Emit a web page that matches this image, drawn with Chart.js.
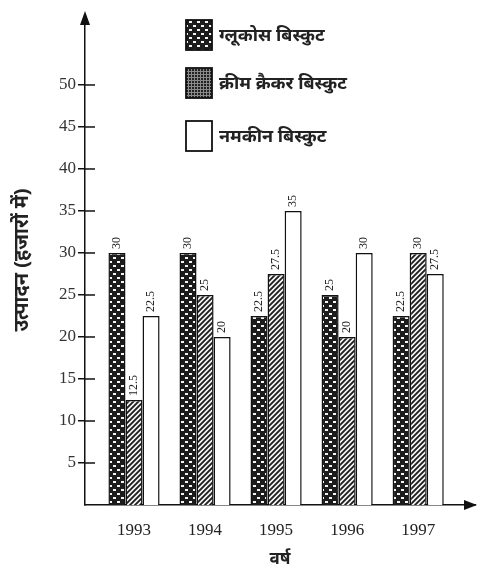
<!DOCTYPE html>
<html><head><meta charset="utf-8">
<script src="https://cdn.jsdelivr.net/npm/chart.js@4"></script>
<style>html,body{margin:0;padding:0;background:#fff}#wrap{width:479px;height:572px}</style>
</head><body><div id="wrap"><canvas id="c" width="479" height="572"></canvas></div>
<script>
const years = ['1993', '1994', '1995', '1996', '1997'];
const glucose = [30, 30, 22.5, 25, 22.5];
const creamCracker = [12.5, 25, 27.5, 20, 30];
const namkeen = [22.5, 20, 35, 30, 27.5];
const seriesNames = ['ग्लूकोस बिस्कुट', 'क्रीम क्रैकर बिस्कुट', 'नमकीन बिस्कुट'];
const yTicks = [5, 10, 15, 20, 25, 30, 35, 40, 45, 50];
const yTitle = 'उत्पादन (हजारों में)';
const xTitle = 'वर्ष';

const DEVA = "'Noto Sans', 'Noto Sans Devanagari', 'Lohit Devanagari', 'DejaVu Sans', sans-serif";
const SERIF = "'Liberation Serif', 'DejaVu Serif', serif";

function pattern(type) {
  const c = document.createElement('canvas');
  const g = c.getContext('2d');
  if (type === 'brick') {
    c.width = 8; c.height = 8;
    g.fillStyle = '#1c1c1c'; g.fillRect(0, 0, 8, 8);
    g.fillStyle = '#f4f4f4';
    g.fillRect(1, 1, 3, 2);
    g.fillRect(5, 5, 3, 2);
  } else if (type === 'hatch') {
    c.width = 5; c.height = 5;
    g.fillStyle = '#f4f4f4'; g.fillRect(0, 0, 5, 5);
    g.strokeStyle = '#1c1c1c'; g.lineWidth = 1.8;
    g.beginPath();
    g.moveTo(-1, 6); g.lineTo(6, -1);
    g.moveTo(-1, 1); g.lineTo(1, -1);
    g.moveTo(4, 6); g.lineTo(6, 4);
    g.stroke();
  } else if (type === 'dots') {
    c.width = 3; c.height = 3;
    g.fillStyle = '#8a8a8a'; g.fillRect(0, 0, 3, 3);
    g.fillStyle = '#222'; g.fillRect(0, 0, 2, 2);
  }
  return g.createPattern(c, 'repeat');
}

const fills = [pattern('brick'), pattern('hatch'), '#ffffff'];
const legendFills = [pattern('brick'), pattern('dots'), '#ffffff'];
const seriesData = [glucose, creamCracker, namkeen];

const datasets = seriesData.map((arr, k) => ({
  label: seriesNames[k],
  data: arr.map((v, i) => ({ x: i, y: v })),
  backgroundColor: fills[k],
  borderColor: '#111',
  borderWidth: 1.5,
  barPercentage: 1,
  categoryPercentage: 0.72
}));

const decor = {
  id: 'decor',
  afterDatasetsDraw(chart) {
    const ctx = chart.ctx;
    ctx.save();
    ctx.fillStyle = '#222';
    ctx.font = '12px ' + SERIF;
    chart.data.datasets.forEach((ds, k) => {
      const meta = chart.getDatasetMeta(k);
      meta.data.forEach((bar, i) => {
        ctx.save();
        ctx.translate(bar.x, bar.y - 4);
        ctx.rotate(-Math.PI / 2);
        ctx.textAlign = 'left';
        ctx.textBaseline = 'middle';
        ctx.fillText(String(seriesData[k][i]), 0, 0);
        ctx.restore();
      });
    });
    ctx.restore();
  },
  afterDraw(chart) {
    const ctx = chart.ctx;
    const a = chart.chartArea;
    const ys = chart.scales.y;
    ctx.save();
    ctx.strokeStyle = '#111';
    ctx.lineWidth = 1.5;
    yTicks.forEach(v => {
      const p = ys.getPixelForValue(v);
      ctx.beginPath(); ctx.moveTo(a.left, p); ctx.lineTo(a.left + 10, p); ctx.stroke();
    });
    ctx.fillStyle = '#111';
    ctx.beginPath();
    ctx.moveTo(a.left, a.top - 4); ctx.lineTo(a.left - 5, a.top + 10); ctx.lineTo(a.left + 5, a.top + 10); ctx.closePath(); ctx.fill();
    ctx.beginPath();
    ctx.moveTo(a.right + 2, a.bottom); ctx.lineTo(a.right - 11, a.bottom - 5); ctx.lineTo(a.right - 11, a.bottom + 5); ctx.closePath(); ctx.fill();
    const tops = [20, 68, 121];
    tops.forEach((t, k) => {
      ctx.fillStyle = legendFills[k];
      ctx.fillRect(186, t, 26, 30);
      ctx.lineWidth = 1.8;
      ctx.strokeRect(186, t, 26, 30);
      ctx.fillStyle = '#222';
      ctx.font = 'bold 18px ' + DEVA;
      ctx.textAlign = 'left';
      ctx.textBaseline = 'middle';
      ctx.fillText(seriesNames[k], 219, t + 16);
    });
    ctx.restore();
  }
};

new Chart(document.getElementById('c'), {
  type: 'bar',
  data: { datasets },
  options: {
    responsive: false,
    animation: false,
    layout: { padding: { top: 15, right: 4, left: 0, bottom: 0 } },
    plugins: { legend: { display: false }, tooltip: { enabled: false } },
    scales: {
      x: {
        type: 'linear',
        offset: false,
        min: -0.69,
        max: 4.80,
        afterFit: s => { s.height = 67; },
        afterBuildTicks: s => { s.ticks = years.map((_, i) => ({ value: i })); },
        grid: { display: false, offset: false },
        border: { display: true, color: '#111', width: 1.5 },
        ticks: {
          padding: 7,
          color: '#222',
          font: { family: SERIF, size: 17 },
          callback: v => years[v]
        },
        title: {
          display: true,
          text: xTitle,
          color: '#222',
          font: { family: DEVA, size: 17, weight: 'bold' },
          padding: { top: 0, bottom: 3 }
        }
      },
      y: {
        min: 0,
        max: 58.33,
        afterFit: s => { s.width = 85; },
        afterBuildTicks: s => { s.ticks = yTicks.map(v => ({ value: v })); },
        grid: { display: true, drawOnChartArea: false, drawTicks: true, tickLength: 7, color: '#111', lineWidth: 1.5 },
        border: { display: true, color: '#111', width: 1.5 },
        ticks: {
          padding: 2,
          color: '#333',
          font: { family: SERIF, size: 17 }
        },
        title: {
          display: true,
          text: yTitle,
          color: '#222',
          font: { family: DEVA, size: 20, weight: 'bold' },
          padding: { top: 10, bottom: 0 }
        }
      }
    }
  },
  plugins: [decor]
});
</script></body></html>
